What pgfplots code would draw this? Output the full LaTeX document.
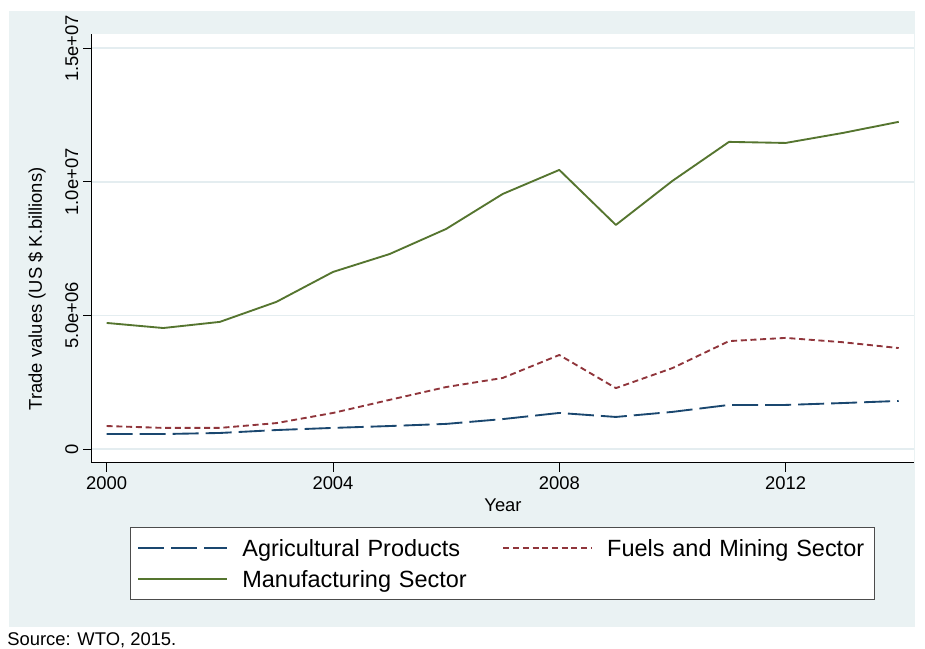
\documentclass[border=0pt]{standalone}
\usepackage{fontspec}
\setmainfont{Liberation Sans}
\usepackage{pgfplots}
\pgfplotsset{compat=1.18}

\definecolor{stnavy}{RGB}{26,71,111}
\definecolor{stmaroon}{RGB}{144,53,59}
\definecolor{stgreen}{RGB}{85,117,47}
\definecolor{bgblue}{RGB}{234,242,243}
\definecolor{gridblue}{RGB}{228,237,240}

\newcommand{\tickfont}{\fontsize{13.8}{16}\selectfont}
\newcommand{\legfont}{\fontsize{17.6}{21}\selectfont}

\begin{document}
\begin{tikzpicture}
% 1px = 0.75pt
\fill[white] (0pt,0pt) rectangle (693.75pt,486.75pt);
\fill[bgblue] (6.75pt,16.5pt) rectangle (686.25pt,478.5pt);
\begin{axis}[
  at={(69pt,139.5pt)}, anchor=south west,
  scale only axis, width=616.5pt, height=321.75pt,
  xmin=1999.74, xmax=2014.27, ymin=-0.524e6, ymax=15.54e6,
  axis background/.style={fill=white},
  axis x line*=bottom, axis y line*=left,
  axis line style={black, line width=0.75pt, -},
  xtick={2000,2004,2008,2012}, xticklabels={2000,2004,2008,2012},
  ytick={0,5e6,1e7,1.5e7}, yticklabels={0,5.0e+06,1.0e+07,1.5e+07},
  scaled y ticks=false,
  tick align=outside, major tick length=6.75pt,
  tick style={black, line width=0.75pt},
  ymajorgrids, grid style={gridblue, line width=1.4pt},
  xticklabel style={font=\tickfont},
  yticklabel style={font=\tickfont, rotate=90, anchor=south},
  xlabel={Year},
  xlabel style={at={(rel axis cs:0.5,-0.098)}, anchor=center, font=\tickfont},
  ylabel={Trade values (US \$ K.billions)},
  ylabel style={at={(rel axis cs:-0.067,0.406)}, anchor=center, font=\tickfont},
  legend columns=2, legend cell align=left,
  legend image code/.code={\draw[#1] (0pt,0pt) -- (66.75pt,0pt);},
  legend style={at={(rel axis cs:0.0462,-0.149)}, anchor=north west,
    draw=black!70, line width=0.8pt, fill=white, font=\legfont,
    inner xsep=5.25pt, inner ysep=3.75pt, row sep=0pt,
    nodes={inner sep=0pt, text width=195pt, text height=18.3pt, text depth=5pt},
    /tikz/every odd column/.append style={column sep=10.5pt}},
]
\addplot[stnavy, line width=1.4pt, line join=round, dash pattern=on 19.5pt off 5.25pt] coordinates {
 (2000,0.56e6) (2001,0.56e6) (2002,0.60e6) (2003,0.71e6) (2004,0.79e6)
 (2005,0.86e6) (2006,0.94e6) (2007,1.12e6) (2008,1.35e6) (2009,1.20e6)
 (2010,1.39e6) (2011,1.65e6) (2012,1.65e6) (2013,1.72e6) (2014,1.80e6)};
\addplot[stmaroon, line width=1.4pt, line join=round, dash pattern=on 4.5pt off 2.8pt] coordinates {
 (2000,0.86e6) (2001,0.79e6) (2002,0.79e6) (2003,0.97e6) (2004,1.35e6)
 (2005,1.84e6) (2006,2.32e6) (2007,2.66e6) (2008,3.52e6) (2009,2.28e6)
 (2010,3.03e6) (2011,4.04e6) (2012,4.16e6) (2013,4.00e6) (2014,3.78e6)};
\addplot[stgreen, line width=1.4pt, line join=round] coordinates {
 (2000,4.72e6) (2001,4.53e6) (2002,4.76e6) (2003,5.51e6) (2004,6.63e6)
 (2005,7.30e6) (2006,8.24e6) (2007,9.55e6) (2008,10.45e6) (2009,8.39e6)
 (2010,10.04e6) (2011,11.50e6) (2012,11.46e6) (2013,11.83e6) (2014,12.25e6)};
\legend{Agricultural Products, Fuels and Mining Sector, Manufacturing Sector}
\end{axis}
\node[anchor=base west, font=\tickfont, inner sep=0pt] at (5.25pt,2.25pt) {Source: WTO, 2015.};
\end{tikzpicture}
\end{document}
